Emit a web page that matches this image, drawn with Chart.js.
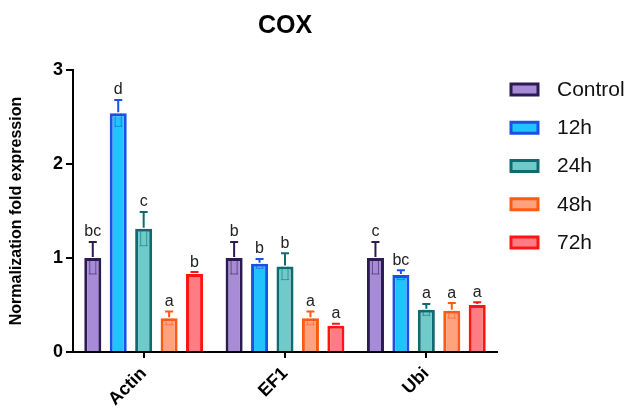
<!DOCTYPE html>
<html>
<head>
<meta charset="utf-8">
<script src="https://cdn.jsdelivr.net/npm/chart.js@4/dist/chart.umd.min.js"></script>
<style>
  html, body { margin: 0; background: #fff; }
</style>
</head>
<body>
<canvas id="coxChart" width="630" height="415"></canvas>
<script>
// Données
const genes = ["Actin", "EF1", "Ubi"];
const seriesNames = ["Control", "12h", "24h", "48h", "72h"];

const controlVals = [1.00, 1.00, 1.00];
const h12Vals = [2.54, 0.94, 0.82];
const h24Vals = [1.31, 0.91, 0.45];
const h48Vals = [0.36, 0.36, 0.44];
const h72Vals = [0.83, 0.28, 0.50];

const controlErr = [0.17, 0.17, 0.17];
const h12Err = [0.14, 0.05, 0.05];
const h24Err = [0.18, 0.14, 0.06];
const h48Err = [0.07, 0.07, 0.08];
const h72Err = [0.02, 0.02, 0.03];

const controlSig = ["bc", "b", "c"];
const h12Sig = ["d", "b", "bc"];
const h24Sig = ["c", "b", "a"];
const h48Sig = ["a", "a", "a"];
const h72Sig = ["b", "a", "a"];

const yTicks = [0, 1, 2, 3];

const borderColors = ["#2b1b52", "#1c4fe6", "#0f6b70", "#ff5a12", "#ff1414"];
const fillColors = ["#a78bd6", "#22c2ff", "#6fcaca", "#ffa27e", "#ff7c84"];

const FONT = "'Liberation Sans', Arial, sans-serif";

const allVals = [controlVals, h12Vals, h24Vals, h48Vals, h72Vals];
const allErr = [controlErr, h12Err, h24Err, h48Err, h72Err];
const allSig = [controlSig, h12Sig, h24Sig, h48Sig, h72Sig];

const datasets = seriesNames.map((name, i) => ({
    label: name,
    data: allVals[i],
    backgroundColor: fillColors[i],
    borderColor: borderColors[i],
    borderWidth: 3,
    borderSkipped: "bottom",
    barPercentage: 0.67,
    categoryPercentage: 0.9
}));

// barres d'erreur + lettres
const errorBars = {
    id: "errorBars",
    afterDatasetsDraw(chart) {
        const ctx = chart.ctx;
        const y = chart.scales.y;
        chart.data.datasets.forEach((ds, i) => {
            const meta = chart.getDatasetMeta(i);
            meta.data.forEach((bar, j) => {
                const v = ds.data[j];
                const e = allErr[i][j];
                const x = bar.x;
                const yTop = y.getPixelForValue(v + e);
                const yVal = y.getPixelForValue(v);
                const yLow = y.getPixelForValue(v - e);
                ctx.save();
                ctx.strokeStyle = borderColors[i];
                ctx.lineWidth = 2;
                ctx.beginPath();
                ctx.moveTo(x, yVal - 1);
                ctx.lineTo(x, yTop);
                ctx.moveTo(x - 4, yTop);
                ctx.lineTo(x + 4, yTop);
                ctx.stroke();
                // partie basse visible dans la barre
                if (yLow - yVal > 3) {
                    ctx.globalAlpha = 0.55;
                    ctx.lineWidth = 1;
                    ctx.beginPath();
                    ctx.moveTo(x - 3, yVal);
                    ctx.lineTo(x - 3, yLow);
                    ctx.moveTo(x + 3, yVal);
                    ctx.lineTo(x + 3, yLow);
                    ctx.moveTo(x - 4, yLow);
                    ctx.lineTo(x + 4, yLow);
                    ctx.stroke();
                }
                ctx.restore();
                ctx.save();
                ctx.fillStyle = "#222";
                ctx.font = "16px " + FONT;
                ctx.textAlign = "center";
                ctx.textBaseline = "bottom";
                ctx.fillText(allSig[i][j], x, yTop - 2);
                ctx.restore();
            });
        });
    }
};

// titre centré sur la zone du graphe + légende à droite
const titleAndLegend = {
    id: "titleAndLegend",
    afterDraw(chart) {
        const ctx = chart.ctx;
        const area = chart.chartArea;
        ctx.save();
        ctx.fillStyle = "#000";
        ctx.font = "bold 25px " + FONT;
        ctx.textAlign = "center";
        ctx.textBaseline = "middle";
        ctx.fillText("COX", (area.left + area.right) / 2, 26);

        ctx.font = "21px " + FONT;
        ctx.textAlign = "left";
        chart.data.datasets.forEach((ds, i) => {
            const cy = 89 + i * 38.25;
            ctx.fillStyle = fillColors[i];
            ctx.fillRect(511, cy - 5, 27, 11);
            ctx.strokeStyle = borderColors[i];
            ctx.lineWidth = 3;
            ctx.strokeRect(511, cy - 5, 27, 11);
            ctx.fillStyle = "#111";
            ctx.fillText(ds.label, 557, cy + 1);
        });
        ctx.restore();
    }
};

new Chart(document.getElementById("coxChart").getContext("2d"), {
    type: "bar",
    data: { labels: genes, datasets: datasets },
    plugins: [errorBars, titleAndLegend],
    options: {
        responsive: false,
        animation: false,
        layout: { padding: { top: 70, right: 133, bottom: 0, left: 0 } },
        plugins: {
            title: { display: false },
            legend: { display: false },
            tooltip: { enabled: false }
        },
        scales: {
            x: {
                grid: {
                    display: true,
                    drawOnChartArea: false,
                    offset: false,
                    color: "#000",
                    lineWidth: 2,
                    tickLength: 6
                },
                border: { color: "#000", width: 2 },
                ticks: {
                    color: "#000",
                    font: { family: FONT, size: 18, weight: "bold" },
                    maxRotation: 45,
                    minRotation: 45,
                    padding: 5
                },
                afterFit: (s) => { s.height = 63; }
            },
            y: {
                min: 0,
                max: 3,
                afterBuildTicks: (s) => { s.ticks = yTicks.map(v => ({ value: v })); },
                grid: {
                    drawOnChartArea: false,
                    color: "#000",
                    lineWidth: 2,
                    tickLength: 7
                },
                border: { color: "#000", width: 2 },
                ticks: {
                    color: "#000",
                    font: { family: FONT, size: 18, weight: "bold" },
                    padding: 3
                },
                title: {
                    display: true,
                    text: "Normalization fold expression",
                    color: "#000",
                    font: { family: FONT, size: 16, weight: "bold" },
                    padding: { top: 7, bottom: 0 }
                },
                afterFit: (s) => { s.width = 73; }
            }
        }
    }
});
</script>
</body>
</html>
